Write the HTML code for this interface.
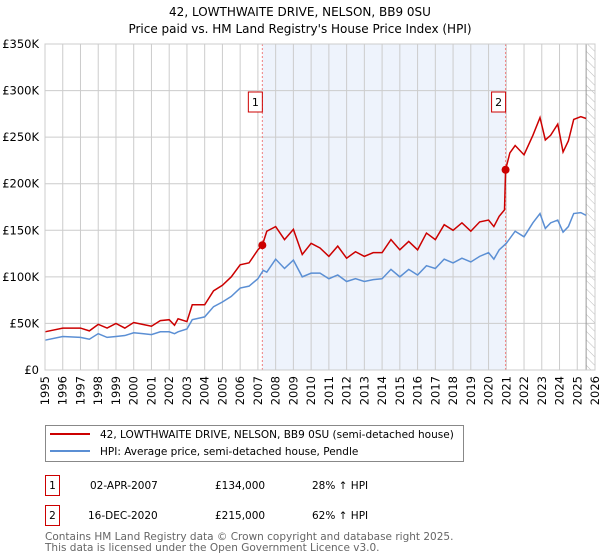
<!DOCTYPE html>
<html><head><meta charset="utf-8"><style>
body{margin:0;background:#fff;font-family:"DejaVu Sans","Liberation Sans",sans-serif;}
svg{display:block}
</style></head><body>
<svg id="c" width="600" height="560" xmlns="http://www.w3.org/2000/svg" font-family="DejaVu Sans, Liberation Sans, sans-serif">
<defs><pattern id="hatch" width="6" height="6" patternUnits="userSpaceOnUse" patternTransform="rotate(-45)"><line x1="0" y1="0" x2="0" y2="6" stroke="#bbb" stroke-width="1"/></pattern></defs>
<text x="300" y="16" text-anchor="middle" font-size="12">42, LOWTHWAITE DRIVE, NELSON, BB9 0SU</text>
<text x="300" y="33" text-anchor="middle" font-size="12">Price paid vs. HM Land Registry's House Price Index (HPI)</text>
<g id="plot"></g>
<g>
<rect x="45.5" y="425.5" width="418" height="36" fill="#fff" stroke="#888"/>
<line x1="50" y1="434" x2="90" y2="434" stroke="#cc0000" stroke-width="2"/>
<text x="100" y="438" font-size="10.5">42, LOWTHWAITE DRIVE, NELSON, BB9 0SU (semi-detached house)</text>
<line x1="50" y1="451" x2="90" y2="451" stroke="#5b8fd4" stroke-width="2"/>
<text x="100" y="455" font-size="10.5">HPI: Average price, semi-detached house, Pendle</text>
</g>
<g font-size="10.5">
<rect x="45.5" y="475.5" width="14" height="20" fill="#fff" stroke="#cc0000"/>
<text x="52.5" y="489" text-anchor="middle">1</text>
<text x="90" y="489">02-APR-2007</text><text x="215" y="489">£134,000</text><text x="312" y="489">28% ↑ HPI</text>
<rect x="45.5" y="505.5" width="14" height="20" fill="#fff" stroke="#cc0000"/>
<text x="52.5" y="519" text-anchor="middle">2</text>
<text x="88" y="519">16-DEC-2020</text><text x="215" y="519">£215,000</text><text x="312" y="519">62% ↑ HPI</text>
</g>
<text x="45" y="540" font-size="10.5" fill="#666">Contains HM Land Registry data © Crown copyright and database right 2025.</text>
<text x="45" y="551" font-size="10.5" fill="#666">This data is licensed under the Open Government Licence v3.0.</text>
</svg>
<script>
const yTicks=[0,50,100,150,200,250,300,350];
const yTickLabels=["£0","£50K","£100K","£150K","£200K","£250K","£300K","£350K"];
const xYears=[1995,1996,1997,1998,1999,2000,2001,2002,2003,2004,2005,2006,2007,2008,2009,2010,2011,2012,2013,2014,2015,2016,2017,2018,2019,2020,2021,2022,2023,2024,2025,2026];
const hpiT=[1995,1996,1997,1997.5,1998,1998.5,1999,1999.5,2000,2000.5,2001,2001.5,2002,2002.3,2002.5,2003,2003.3,2004,2004.5,2005,2005.5,2006,2006.5,2007,2007.3,2007.5,2008,2008.5,2009,2009.5,2010,2010.5,2011,2011.5,2012,2012.5,2013,2013.5,2014,2014.5,2015,2015.5,2016,2016.5,2017,2017.5,2018,2018.5,2019,2019.5,2020,2020.3,2020.6,2021,2021.5,2022,2022.5,2022.9,2023.2,2023.5,2023.9,2024.2,2024.5,2024.8,2025.2,2025.5];
const hpiV=[32,36,35,33,39,35,36,37,40,39,38,41,41,39,41,44,54,57,68,73,79,88,90,98,107,105,119,109,118,100,104,104,98,102,95,98,95,97,98,108,100,108,102,112,109,119,115,120,116,122,126,119,129,136,149,143,158,168,152,158,161,148,154,168,169,166];
const propT=[1995,1996,1997,1997.5,1998,1998.5,1999,1999.5,2000,2000.5,2001,2001.5,2002,2002.3,2002.5,2003,2003.3,2004,2004.5,2005,2005.5,2006,2006.5,2007,2007.25,2007.5,2008,2008.5,2009,2009.5,2010,2010.5,2011,2011.5,2012,2012.5,2013,2013.5,2014,2014.5,2015,2015.5,2016,2016.5,2017,2017.5,2018,2018.5,2019,2019.5,2020,2020.3,2020.6,2020.9,2020.96,2021.2,2021.5,2022,2022.5,2022.9,2023.2,2023.5,2023.9,2024.2,2024.5,2024.8,2025.2,2025.5];
const propV=[41,45,45,42,49,45,50,45,51,49,47,53,54,48,55,52,70,70,85,91,100,113,115,129,134,149,154,140,151,124,136,131,122,133,120,127,122,126,126,140,129,138,129,147,140,156,150,158,149,159,161,154,165,172,215,233,241,231,252,271,247,252,264,234,246,269,272,270];
const saleT=[2007.25,2020.96];
const saleV=[134,215];
const saleLabels=["1","2"];

const L=45,R=595,T=44,B=370,NS="http://www.w3.org/2000/svg";
const xs=t=>L+(t-1995)*(R-L)/31;
const ys=v=>B-v*(B-T)/350;
const g=document.getElementById('plot');
function mk(tag,attrs,parent){const e=document.createElementNS(NS,tag);for(const k in attrs)e.setAttribute(k,attrs[k]);(parent||g).appendChild(e);return e;}
let r=mk('rect',{x:xs(saleT[0]),y:T,width:xs(saleT[1])-xs(saleT[0]),height:B-T,fill:'#eef3fc'});


r=mk('rect',{x:xs(2025.5),y:T,width:R-xs(2025.5),height:B-T,fill:'url(#hatch)'});


xYears.forEach(y=>{let l=mk('line',{x1:xs(y),x2:xs(y),y1:T,y2:B,stroke:'#ccc','stroke-width':1});


let t=mk('text',{x:0,y:0,'font-size':11.5,'text-anchor':'end',transform:`translate(${xs(y)+4},${B+6}) rotate(-90)`});t.textContent=y;

});
yTicks.forEach((v,i)=>{let l=mk('line',{x1:L,x2:R,y1:ys(v),y2:ys(v),stroke:'#ccc','stroke-width':1});


let t=mk('text',{x:L-6,y:ys(v)+4,'font-size':11.5,'text-anchor':'end'});t.textContent=yTickLabels[i];

});
let ln=mk('line',{x1:xs(2025.5),x2:xs(2025.5),y1:T,y2:B,stroke:'#999'});


saleT.forEach((s,i)=>{let l=mk('line',{x1:xs(s),x2:xs(s),y1:T,y2:B,stroke:'#f08080','stroke-dasharray':'2,2'});

});
let p=mk('polyline',{points:hpiT.map((t,i)=>xs(t)+','+ys(hpiV[i])).join(' '),fill:'none',stroke:'#5b8fd4','stroke-width':1.5});


p=mk('polyline',{points:propT.map((t,i)=>xs(t)+','+ys(propV[i])).join(' '),fill:'none',stroke:'#cc0000','stroke-width':1.5});


saleT.forEach((s,i)=>{let c=mk('circle',{cx:xs(s),cy:ys(saleV[i]),r:4,fill:'#cc0000'});


let b=mk('rect',{x:xs(s)-14,y:92,width:14,height:20,fill:'#fff',stroke:'#cc0000'});


let t=mk('text',{x:xs(s)-7,y:106,'font-size':11,'text-anchor':'middle'});t.textContent=saleLabels[i];

});
let fr=mk('rect',{x:L,y:T,width:R-L,height:B-T,fill:'none',stroke:'#ccc'});


</script>
</body></html>
